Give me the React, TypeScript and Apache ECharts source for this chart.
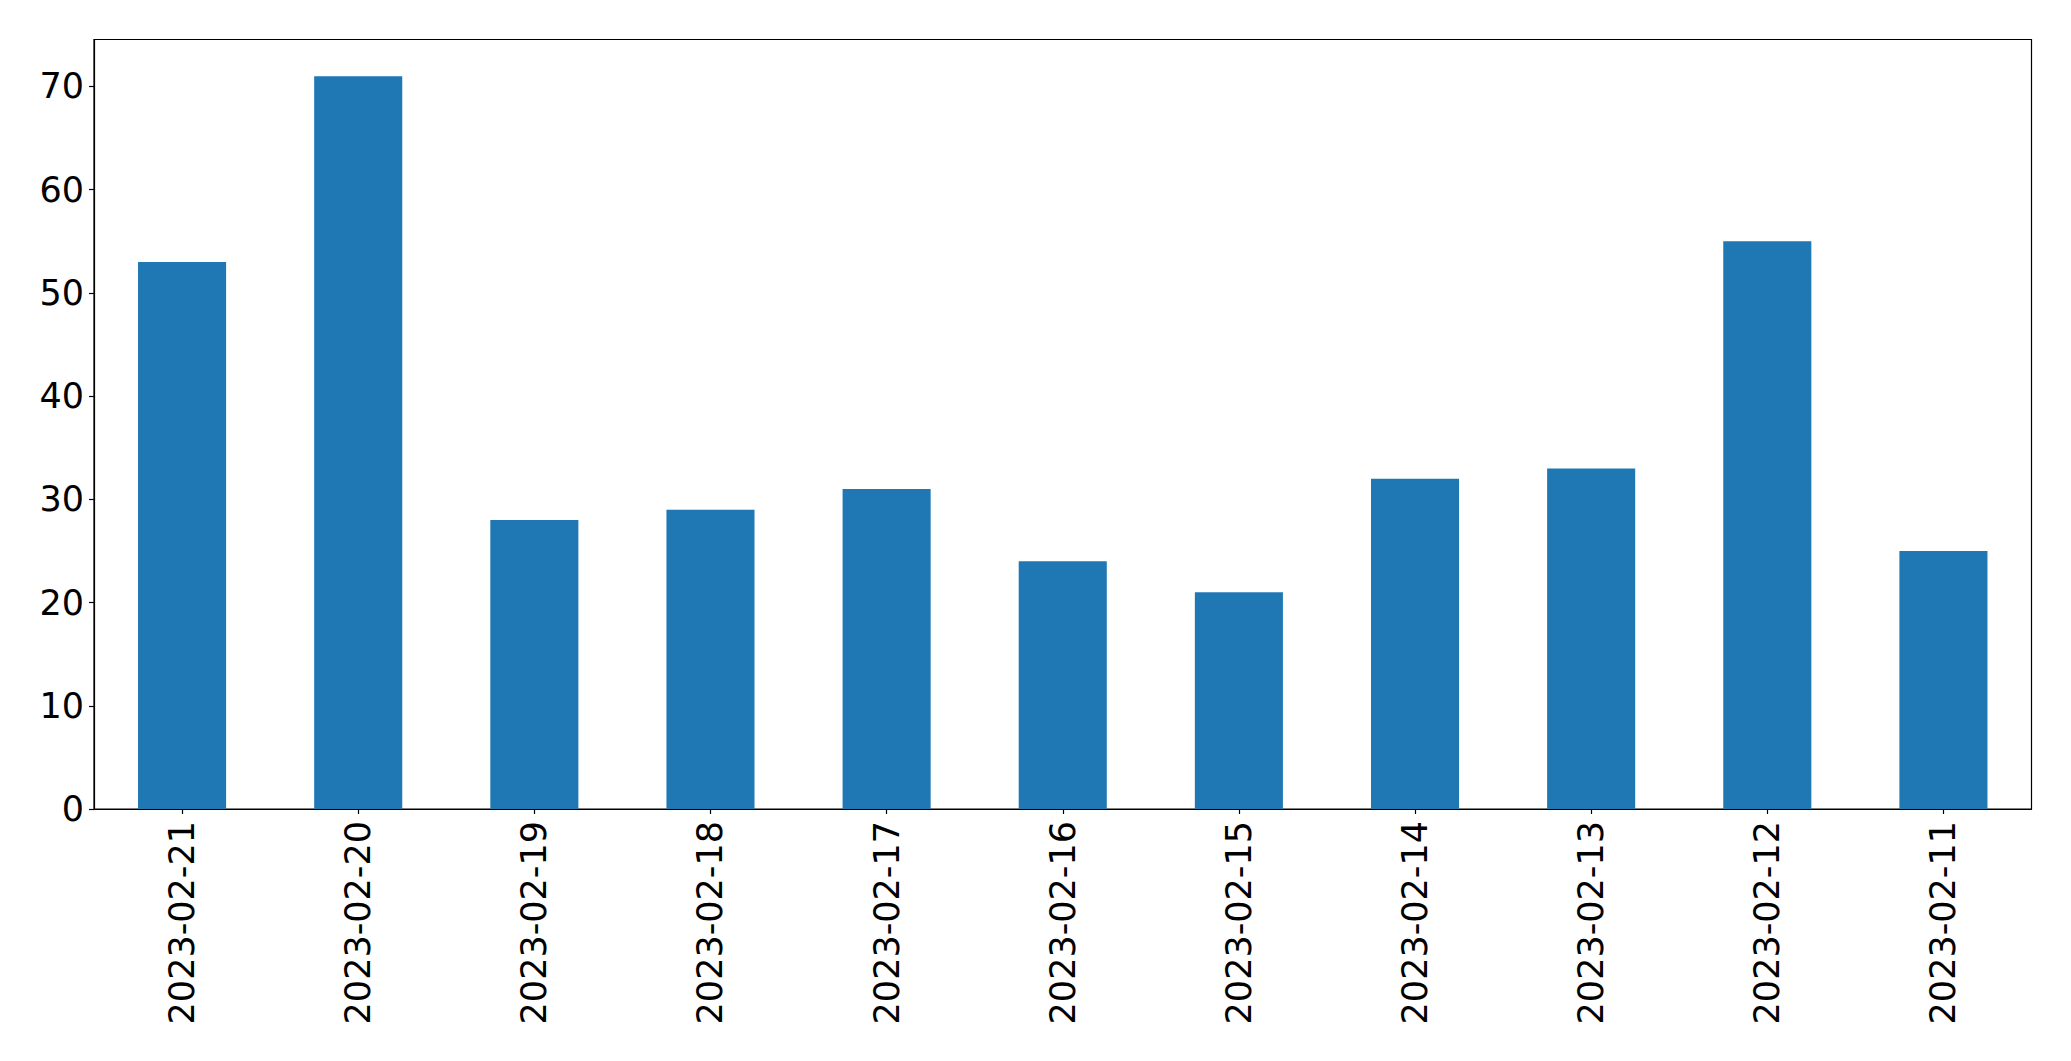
import React, { useEffect, useRef } from "react";
import * as echarts from "echarts";

const categories = [
  "2023-02-21",
  "2023-02-20",
  "2023-02-19",
  "2023-02-18",
  "2023-02-17",
  "2023-02-16",
  "2023-02-15",
  "2023-02-14",
  "2023-02-13",
  "2023-02-12",
  "2023-02-11",
];
const values = [53, 71, 28, 29, 31, 24, 21, 32, 33, 55, 25];
const yTicks = [0, 10, 20, 30, 40, 50, 60, 70];
const yMax = 74.55;

export default function App() {
  const ref = useRef<HTMLDivElement>(null);
  useEffect(() => {
    if (!ref.current) return;
    const chart = echarts.init(ref.current, null, { renderer: "svg" });
    const font = "DejaVu Sans";
    chart.setOption({
      animation: false,
      backgroundColor: "#ffffff",
      grid: {
        left: 94,
        right: 39.5,
        top: 39.5,
        bottom: 252,
        show: true,
        borderColor: "#000000",
        borderWidth: 1.2,
        containLabel: false,
      },
      xAxis: {
        type: "category",
        data: categories,
        boundaryGap: true,
        axisLine: { show: true, lineStyle: { color: "#000000", width: 1.2 } },
        axisTick: { show: true, alignWithLabel: true, length: 5, lineStyle: { color: "#000000", width: 1.2 } },
        axisLabel: {
          rotate: 90,
          margin: 12,
          fontSize: 35,
          fontFamily: font,
          color: "#000000",
          interval: 0,
        },
        splitLine: { show: false },
      },
      yAxis: {
        type: "value",
        min: 0,
        max: yMax,
        interval: 10,
        axisLine: { show: true, lineStyle: { color: "#000000", width: 1.2 } },
        axisTick: {
          show: true,
          length: 5,
          customValues: yTicks,
          lineStyle: { color: "#000000", width: 1.2 },
        },
        axisLabel: {
          margin: 10,
          fontSize: 35,
          fontFamily: font,
          color: "#000000",
          customValues: yTicks,
        },
        splitLine: { show: false },
      },
      series: [
        {
          type: "bar",
          data: values,
          barWidth: "50%",
          itemStyle: { color: "#1f77b4" },
        },
      ],
    });
    return () => chart.dispose();
  }, []);
  return (
    <div
      ref={ref}
      style={{ position: "fixed", left: 0, top: 0, width: "2071px", height: "1061px" }}
    />
  );
}
